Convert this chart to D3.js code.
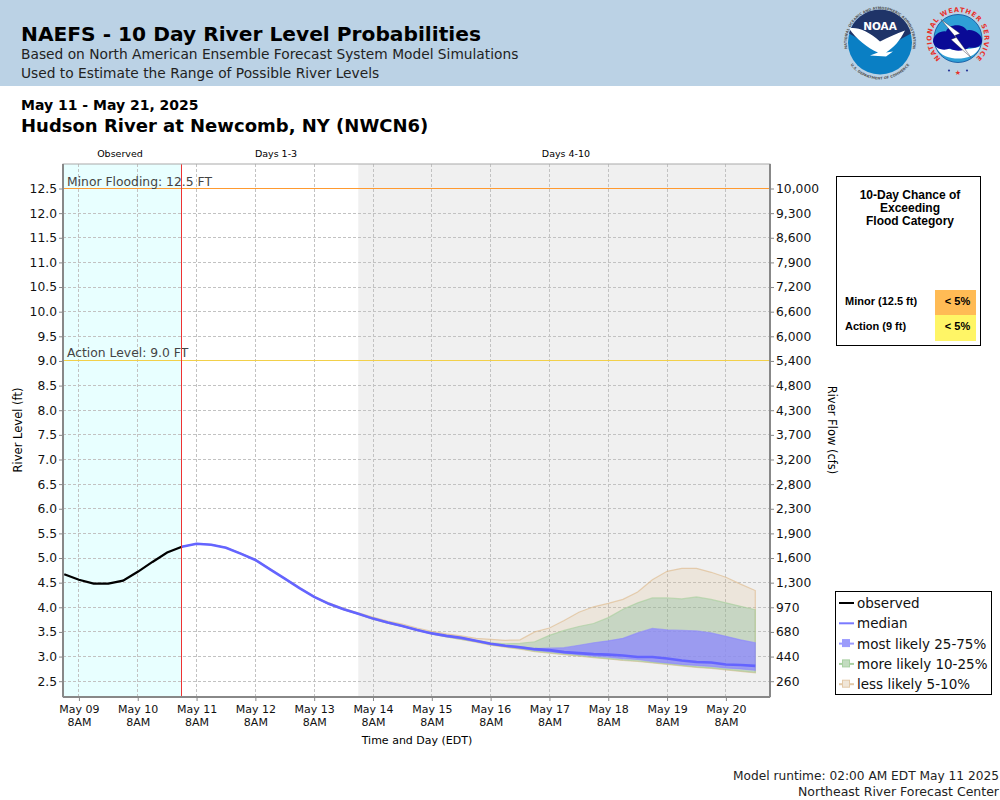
<!DOCTYPE html>
<html lang="en">
<head>
    <meta charset="utf-8" />
    <title>NAEFS - 10 Day River Level Probabilities</title>
    <script src="https://d3js.org/d3.v7.min.js"></script>
    <style>
        html, body { margin: 0; padding: 0; background: #fff; }
        svg { display: block; font-family: "DejaVu Sans", sans-serif; }
        .grid line { stroke: #c2c2c2; stroke-dasharray: 3 2; shape-rendering: crispEdges; }
        .axis path, .axis line { stroke: #888; }
        .axis text { font-family: "DejaVu Sans", sans-serif; fill: #111; }
    </style>
</head>
<body>
    <svg id="chart" width="1000" height="800"></svg>

    <script>
        // stage and flow ticks, the two axes share the same positions
        var levelTicks = [12.5, 12, 11.5, 11, 10.5, 10, 9.5, 9, 8.5, 8, 7.5, 7, 6.5, 6, 5.5, 5, 4.5, 4, 3.5, 3, 2.5];
        var flowTicks = ["10,000", "9,300", "8,600", "7,900", "7,200", "6,600", "6,000", "5,400", "4,800", "4,300", "3,700", "3,200", "2,800", "2,300", "1,900", "1,600", "1,300", "970", "680", "440", "260"];
        var dayTicks = ["May 09", "May 10", "May 11", "May 12", "May 13", "May 14", "May 15", "May 16", "May 17", "May 18", "May 19", "May 20"];

        // observed, every 6h from May 09 2AM
        var observed = [4.66, 4.55, 4.47, 4.47, 4.53, 4.71, 4.91, 5.10, 5.22];

        // forecast, every 6h from May 11 2AM
        var median = [5.22, 5.28, 5.26, 5.20, 5.08, 4.95, 4.76, 4.57, 4.38, 4.20, 4.06, 3.95, 3.86, 3.76, 3.68, 3.61, 3.53, 3.46, 3.41, 3.37, 3.31, 3.25, 3.21, 3.18, 3.14, 3.12, 3.08, 3.06, 3.04, 3.03, 3.01, 2.98, 2.98, 2.95, 2.91, 2.88, 2.87, 2.83, 2.82, 2.80];
        var p95 = [5.22, 5.28, 5.26, 5.20, 5.09, 4.96, 4.77, 4.58, 4.39, 4.21, 4.08, 3.97, 3.88, 3.79, 3.71, 3.65, 3.57, 3.50, 3.45, 3.41, 3.36, 3.34, 3.32, 3.33, 3.49, 3.57, 3.72, 3.89, 4.00, 4.07, 4.15, 4.30, 4.55, 4.72, 4.78, 4.78, 4.70, 4.60, 4.46, 4.33];
        var p90 = [5.22, 5.28, 5.26, 5.20, 5.08, 4.95, 4.76, 4.57, 4.38, 4.20, 4.06, 3.96, 3.86, 3.77, 3.69, 3.62, 3.54, 3.47, 3.42, 3.38, 3.32, 3.27, 3.25, 3.26, 3.29, 3.42, 3.52, 3.60, 3.66, 3.78, 3.95, 4.08, 4.18, 4.18, 4.16, 4.20, 4.15, 4.08, 4.01, 3.94];
        var p75 = [5.22, 5.28, 5.26, 5.20, 5.08, 4.95, 4.76, 4.57, 4.38, 4.20, 4.06, 3.95, 3.86, 3.76, 3.68, 3.61, 3.53, 3.46, 3.41, 3.37, 3.31, 3.26, 3.22, 3.19, 3.15, 3.16, 3.17, 3.22, 3.27, 3.31, 3.36, 3.47, 3.56, 3.53, 3.52, 3.51, 3.47, 3.40, 3.33, 3.27];
        var p25 = [5.22, 5.28, 5.26, 5.20, 5.08, 4.95, 4.76, 4.57, 4.38, 4.20, 4.06, 3.95, 3.86, 3.76, 3.68, 3.60, 3.53, 3.46, 3.40, 3.35, 3.30, 3.24, 3.20, 3.16, 3.12, 3.09, 3.06, 3.03, 3.00, 2.98, 2.95, 2.93, 2.89, 2.86, 2.83, 2.81, 2.79, 2.76, 2.74, 2.71];
        var p10 = [5.22, 5.28, 5.26, 5.20, 5.08, 4.95, 4.76, 4.57, 4.38, 4.20, 4.05, 3.94, 3.85, 3.75, 3.67, 3.60, 3.52, 3.45, 3.39, 3.34, 3.29, 3.23, 3.19, 3.15, 3.10, 3.07, 3.04, 3.01, 2.98, 2.95, 2.92, 2.90, 2.87, 2.84, 2.81, 2.78, 2.76, 2.73, 2.70, 2.67];
        var p5 = [5.22, 5.28, 5.26, 5.20, 5.08, 4.95, 4.76, 4.57, 4.38, 4.20, 4.05, 3.94, 3.85, 3.75, 3.67, 3.60, 3.52, 3.45, 3.39, 3.34, 3.28, 3.22, 3.18, 3.14, 3.09, 3.06, 3.03, 3.00, 2.97, 2.94, 2.91, 2.89, 2.86, 2.83, 2.80, 2.77, 2.75, 2.72, 2.69, 2.66];

        var legendNames = ["observed", "median", "most likely 25-75%", "more likely 10-25%", "less likely 5-10%"];

        var SIX_H = 6 * 3600 * 1000;
        var obsStart = Date.UTC(2025, 4, 9, 2);
        var fcstStart = Date.UTC(2025, 4, 11, 2);
        var grayStart = Date.UTC(2025, 4, 14, 2);

        var svg = d3.select("#chart");
        var left = 63, right = 770, top_ = 164, bottom = 697;

        var x = d3.scaleUtc()
            .domain([Date.UTC(2025, 4, 9, 1, 30), Date.UTC(2025, 4, 21, 2)])
            .range([left, right]);
        var y = d3.scaleLinear().domain([2.5, 12.5]).range([680.7, 188]);

        function obsTime(i) { return obsStart + i * SIX_H; }
        function fcstTime(i) { return fcstStart + i * SIX_H; }
        var dayTimes = dayTicks.map(function (d, i) { return Date.UTC(2025, 4, 9 + i, 8); });

        // header banner
        svg.append("rect").attr("width", 1000).attr("height", 86).attr("fill", "#bbd2e5");
        svg.append("text").attr("x", 21).attr("y", 41).attr("font-size", 20.2).attr("font-weight", "bold").text("NAEFS - 10 Day River Level Probabilities");
        svg.append("text").attr("x", 21).attr("y", 59).attr("font-size", 13.77).attr("fill", "#222").text("Based on North American Ensemble Forecast System Model Simulations");
        svg.append("text").attr("x", 21).attr("y", 78).attr("font-size", 13.77).attr("fill", "#222").text("Used to Estimate the Range of Possible River Levels");
        svg.append("text").attr("x", 21).attr("y", 110).attr("font-size", 14).attr("font-weight", "bold").text("May 11 - May 21, 2025");
        svg.append("text").attr("x", 21).attr("y", 132).attr("font-size", 18).attr("font-weight", "bold").text("Hudson River at Newcomb, NY (NWCN6)");

        drawNoaa(svg.append("g").attr("transform", "translate(880,42.5)"));
        drawNws(svg.append("g").attr("transform", "translate(958,38.5)"));

        // background regions
        svg.append("rect").attr("x", left).attr("y", top_).attr("width", x(fcstStart) - left).attr("height", bottom - top_).attr("fill", "#e8ffff");
        svg.append("rect").attr("x", x(grayStart)).attr("y", top_).attr("width", right - x(grayStart)).attr("height", bottom - top_).attr("fill", "#f0f0f0");

        // grid
        svg.append("g").attr("class", "grid").selectAll("line").data(levelTicks).join("line")
            .attr("x1", left).attr("x2", right)
            .attr("y1", function (d) { return y(d) + 0.5; }).attr("y2", function (d) { return y(d) + 0.5; });
        svg.append("g").attr("class", "grid").selectAll("line").data(dayTimes).join("line")
            .attr("y1", top_).attr("y2", bottom)
            .attr("x1", function (d) { return x(d); }).attr("x2", function (d) { return x(d); });

        // probability bands, widest first
        function band(lo, hi, fill, opacity, edge) {
            var area = d3.area()
                .x(function (d, i) { return x(fcstTime(i)); })
                .y0(function (d, i) { return y(lo[i]); })
                .y1(function (d, i) { return y(hi[i]); });
            svg.append("path").datum(median).attr("d", area)
                .attr("fill", fill).attr("fill-opacity", opacity)
                .attr("stroke", edge).attr("stroke-width", 1.2).attr("stroke-opacity", 0.6);
        }
        band(p5, p95, "#deb887", 0.2, "#deb887");
        band(p10, p90, "#6fb48c", 0.3, "#a5cf9a");
        band(p25, p75, "#8c87ff", 0.75, "#8c87ff");

        // flood levels
        svg.append("line").attr("x1", left).attr("x2", right).attr("y1", y(12.5) + 0.5).attr("y2", y(12.5) + 0.5).attr("stroke", "#ff9a30").attr("shape-rendering", "crispEdges");
        svg.append("line").attr("x1", left).attr("x2", right).attr("y1", y(9) + 0.5).attr("y2", y(9) + 0.5).attr("stroke", "#f2d04a").attr("shape-rendering", "crispEdges");
        svg.append("text").attr("x", 67).attr("y", y(12.5) - 2).attr("font-size", 12.35).attr("fill", "#444").text("Minor Flooding: 12.5 FT");
        svg.append("text").attr("x", 67).attr("y", y(9) - 3).attr("font-size", 12.35).attr("fill", "#444").text("Action Level: 9.0 FT");

        // lines
        var medianLine = d3.line().x(function (d, i) { return x(fcstTime(i)); }).y(function (d) { return y(d); });
        svg.append("path").datum(median).attr("d", medianLine).attr("fill", "none").attr("stroke", "#6464ff").attr("stroke-width", 2.6);
        var obsLine = d3.line().x(function (d, i) { return x(obsTime(i)); }).y(function (d) { return y(d); });
        svg.append("path").datum(observed).attr("d", obsLine).attr("fill", "none").attr("stroke", "#000").attr("stroke-width", 2.2);

        svg.append("line").attr("x1", x(fcstStart)).attr("x2", x(fcstStart)).attr("y1", top_).attr("y2", bottom).attr("stroke", "#ee3333").attr("shape-rendering", "crispEdges");

        // frame
        svg.append("rect").attr("x", left).attr("y", top_).attr("width", right - left).attr("height", bottom - top_)
            .attr("fill", "none").attr("stroke", "#aaa");

        // axes
        var leftAxis = d3.axisLeft(y).tickValues(levelTicks).tickSize(4).tickFormat(d3.format(".1f"));
        svg.append("g").attr("class", "axis").attr("transform", "translate(" + left + ",0.5)").call(leftAxis)
            .call(function (g) { g.select(".domain").attr("d", "M0," + (top_ - 0.5) + "V" + (bottom - 0.5)).attr("stroke-width", 2); })
            .selectAll("text").attr("font-size", 12.3).attr("x", -6);

        var rightAxis = d3.axisRight(y).tickValues(levelTicks).tickSize(4).tickFormat(function (d, i) { return flowTicks[i]; });
        svg.append("g").attr("class", "axis").attr("transform", "translate(" + right + ",0.5)").call(rightAxis)
            .call(function (g) { g.select(".domain").attr("d", "M0," + (top_ - 0.5) + "V" + (bottom - 0.5)).attr("stroke-width", 2); })
            .selectAll("text").attr("font-size", 12.3).attr("x", 6);

        var bottomAxis = d3.axisBottom(x).tickValues(dayTimes).tickSize(4).tickFormat(function (d, i) { return dayTicks[i]; });
        var xg = svg.append("g").attr("class", "axis").attr("transform", "translate(0," + bottom + ")").call(bottomAxis);
        xg.select(".domain").attr("d", "M" + left + ",0H" + right).attr("stroke-width", 2);
        xg.selectAll("text").attr("font-size", 11).attr("y", 8);
        xg.selectAll(".tick").append("text").attr("y", 21).attr("dy", "0.71em").attr("fill", "#111").attr("font-size", 11).text("8AM");

        svg.append("text").attr("x", 417).attr("y", 744).attr("text-anchor", "middle").attr("font-size", 11).text("Time and Day (EDT)");
        svg.append("text").attr("transform", "translate(22,430) rotate(-90)").attr("text-anchor", "middle").attr("font-size", 11.5).text("River Level (ft)");
        svg.append("text").attr("transform", "translate(828,430) rotate(90)").attr("text-anchor", "middle").attr("font-size", 11.5).text("River Flow (cfs)");

        // period labels above the plot
        svg.append("text").attr("x", 120).attr("y", 157).attr("text-anchor", "middle").attr("font-size", 9.5).text("Observed");
        svg.append("text").attr("x", 276).attr("y", 157).attr("text-anchor", "middle").attr("font-size", 9.5).text("Days 1-3");
        svg.append("text").attr("x", 566).attr("y", 157).attr("text-anchor", "middle").attr("font-size", 9.5).text("Days 4-10");

        // flood category box
        var box = svg.append("g").attr("font-family", "'Liberation Sans', sans-serif").attr("font-weight", "bold");
        box.append("rect").attr("x", 836.5).attr("y", 176.5).attr("width", 144).attr("height", 169).attr("fill", "#fff").attr("stroke", "#000");
        ["10-Day Chance of", "Exceeding", "Flood Category"].forEach(function (t, i) {
            box.append("text").attr("x", 910).attr("y", 199 + i * 13).attr("text-anchor", "middle").attr("font-size", 12).text(t);
        });
        box.append("rect").attr("x", 935).attr("y", 290).attr("width", 41).attr("height", 25).attr("fill", "#ffbb55");
        box.append("rect").attr("x", 935).attr("y", 315).attr("width", 41).attr("height", 26).attr("fill", "#fff566");
        box.append("text").attr("x", 845).attr("y", 305).attr("font-size", 11).text("Minor (12.5 ft)");
        box.append("text").attr("x", 845).attr("y", 330).attr("font-size", 11).text("Action (9 ft)");
        box.append("text").attr("x", 957.5).attr("y", 305).attr("text-anchor", "middle").attr("font-size", 11).text("< 5%");
        box.append("text").attr("x", 957.5).attr("y", 330).attr("text-anchor", "middle").attr("font-size", 11).text("< 5%");

        // legend
        var legendLine = ["#000", "#7a7aff", "#9a9aff", "#a9d0a2", "#e3c9a8"];
        var legendFill = [null, null, "#9c9cfa", "#c3dcc0", "#f0e6d8"];
        var legend = svg.append("g");
        legend.append("rect").attr("x", 835.5).attr("y", 591.5).attr("width", 156).attr("height", 103).attr("fill", "#fff").attr("stroke", "#000");
        legendNames.forEach(function (name, i) {
            var ly = 603 + i * 20.3;
            legend.append("line").attr("x1", 839).attr("x2", 854).attr("y1", ly).attr("y2", ly).attr("stroke", legendLine[i]).attr("stroke-width", 2);
            if (legendFill[i]) {
                legend.append("rect").attr("x", 842.5).attr("y", ly - 4).attr("width", 7).attr("height", 7).attr("fill", legendFill[i]).attr("stroke", legendLine[i]);
            }
            legend.append("text").attr("x", 857).attr("y", ly + 5).attr("font-size", 13.5).attr("fill", "#111").text(name);
        });

        // footer
        svg.append("text").attr("x", 999).attr("y", 780).attr("text-anchor", "end").attr("font-size", 12.2).attr("fill", "#222").text("Model runtime: 02:00 AM EDT May 11 2025");
        svg.append("text").attr("x", 999).attr("y", 796).attr("text-anchor", "end").attr("font-size", 12.5).attr("fill", "#222").text("Northeast River Forecast Center");

        function ringText(g, id, r, startDeg, endDeg, txt, size, color, large, sweep, spacing) {
            var a0 = startDeg * Math.PI / 180, a1 = endDeg * Math.PI / 180;
            g.append("path").attr("id", id).attr("fill", "none")
                .attr("d", "M" + r * Math.cos(a0) + "," + r * Math.sin(a0) + "A" + r + "," + r + " 0 " + large + " " + sweep + " " + r * Math.cos(a1) + "," + r * Math.sin(a1));
            g.append("text").attr("font-size", size).attr("font-weight", "bold").attr("fill", color).attr("letter-spacing", spacing)
                .append("textPath").attr("href", "#" + id).attr("startOffset", "50%").attr("text-anchor", "middle").text(txt);
        }

        // rough versions of the two agency seals
        function drawNoaa(g) {
            g.append("circle").attr("r", 32).attr("fill", "#0a7fc4");
            g.append("path").attr("d", "M-31,-9A32,32 0 0 1 31,-9L0,8Z").attr("fill", "#1f3468");
            g.append("path").attr("d", "M-31,-14C-24,-16 -12,-12 0,-1C8,-5 16,-9 25,-12C20,-2 14,5 6,10L13,9L6,14L-10,13L-2,10C-12,6 -24,-4 -31,-14Z").attr("fill", "#fff");
            g.append("text").attr("y", -13).attr("text-anchor", "middle").attr("font-size", 10.5).attr("font-weight", "bold").attr("fill", "#fff").text("NOAA");
            ringText(g, "noaaTop", 33.2, 160, 20, "NATIONAL OCEANIC AND ATMOSPHERIC ADMINISTRATION", 3.6, "#555", 1, 1, 0);
            ringText(g, "noaaBottom", 37, 145, 35, "U.S. DEPARTMENT OF COMMERCE", 3.6, "#555", 0, 0, 0);
        }

        function drawNws(g) {
            g.append("circle").attr("r", 24).attr("fill", "#2f9fd6").attr("stroke", "#0a4f9a").attr("stroke-width", 0.8);
            g.append("path").attr("d", "M-22,8C-12,12 12,12 22,8C18,18 8,20 0,20C-8,20 -18,18 -22,8Z").attr("fill", "#fff");
            g.append("path").attr("d", "M-25,3C-25,-4 -17,-8 -12,-7C-9,-15 5,-15 9,-8C15,-10 25,-4 24,3C23,9 16,10 11,9C5,13 -3,13 -8,10C-15,13 -24,10 -25,3Z").attr("fill", "#0a0a96");
            g.append("path").attr("d", "M-17,-19L2,-5L-3,-3L13,19L-7,1L-2,-1Z").attr("fill", "#fff").attr("stroke", "#223").attr("stroke-width", 0.4);
            ringText(g, "nwsRing", 26.5, 120, 60, "NATIONAL WEATHER SERVICE", 6.6, "#e8302a", 1, 1, 0.8);
            g.selectAll("circle.dot").data([-9, 9]).join("circle").attr("class", "dot").attr("cx", function (d) { return d; }).attr("cy", 32).attr("r", 1.1).attr("fill", "#2a3a9a");
            g.append("text").attr("y", 36).attr("text-anchor", "middle").attr("font-size", 7).attr("fill", "#e8302a").text("\u2605");
        }
    </script>
</body>
</html>
